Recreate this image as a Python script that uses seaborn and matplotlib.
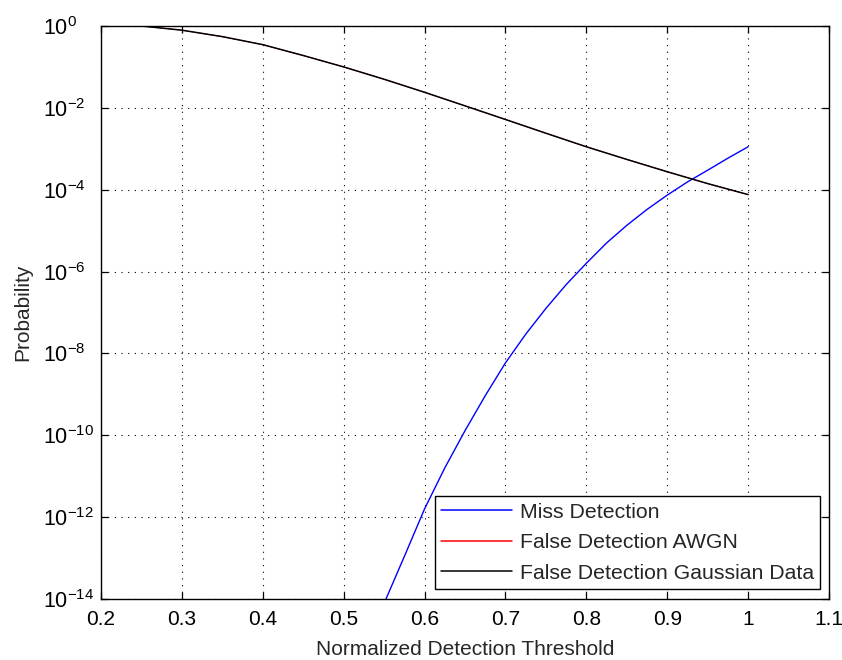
import matplotlib
matplotlib.use("Agg")
import matplotlib.pyplot as plt
from matplotlib.ticker import FixedLocator, NullLocator, LogFormatterMathtext
import seaborn as sns
import pandas as pd

# Detection threshold sweep and the resulting error probabilities
thr_miss = [0.55, 0.575, 0.6, 0.625, 0.65, 0.675, 0.7, 0.725, 0.75, 0.775,
            0.8, 0.825, 0.85, 0.875, 0.9, 0.925, 0.95, 0.975, 1.0]
p_miss = [7.9e-15, 1.1e-13, 1.6e-12, 1.6e-11, 1.3e-10, 9.3e-10, 5.9e-9,
          2.95e-8, 1.26e-7, 4.8e-7, 1.6e-6, 5.0e-6, 1.35e-5, 3.3e-5,
          7.4e-5, 1.55e-4, 3.0e-4, 5.9e-4, 1.12e-3]

thr_fa = [0.25, 0.3, 0.35, 0.4, 0.45, 0.5, 0.55, 0.6, 0.65, 0.7, 0.75,
          0.8, 0.85, 0.9, 0.95, 1.0]
p_fa_gauss = [1.0, 0.79, 0.55, 0.35, 0.19, 0.10, 0.050, 0.024, 0.0112,
              5.2e-3, 2.4e-3, 1.12e-3, 5.5e-4, 2.75e-4, 1.41e-4, 7.6e-5]
# AWGN false-detection curve coincides with the Gaussian-data curve
p_fa_awgn = list(p_fa_gauss)

x_ticks = [0.2, 0.3, 0.4, 0.5, 0.6, 0.7, 0.8, 0.9, 1.0, 1.1]
x_tick_labels = ["0.2", "0.3", "0.4", "0.5", "0.6", "0.7", "0.8", "0.9", "1", "1.1"]
y_ticks = [1e-14, 1e-12, 1e-10, 1e-8, 1e-6, 1e-4, 1e-2, 1e0]

labels = ["Miss Detection", "False Detection AWGN", "False Detection Gaussian Data"]

sns.set_theme(style="white")
plt.rcParams["font.family"] = ["Liberation Sans", "DejaVu Sans"]
plt.rcParams["mathtext.fontset"] = "custom"
plt.rcParams["mathtext.rm"] = "Liberation Sans"
plt.rcParams["mathtext.it"] = "Liberation Sans"
plt.rcParams["mathtext.default"] = "regular"

fig = plt.figure(figsize=(8.42, 6.60), dpi=100)
ax = fig.add_axes([0.12, 0.0924, 0.8646, 0.8682])

df_miss = pd.DataFrame({"thr": thr_miss, "p": p_miss})
df_awgn = pd.DataFrame({"thr": thr_fa, "p": p_fa_awgn})
df_gauss = pd.DataFrame({"thr": thr_fa, "p": p_fa_gauss})

sns.lineplot(data=df_miss, x="thr", y="p", ax=ax, color="#0000ff", lw=1.0,
             label=labels[0], sort=True)
sns.lineplot(data=df_awgn, x="thr", y="p", ax=ax, color="#ff0000", lw=0.6,
             label=labels[1], sort=True)
sns.lineplot(data=df_gauss, x="thr", y="p", ax=ax, color="black", lw=1.1,
             label=labels[2], sort=True)

ax.set_yscale("log")
ax.set_xlim(0.2, 1.1)
ax.set_ylim(1e-14, 1e0)

ax.xaxis.set_major_locator(FixedLocator(x_ticks))
ax.set_xticklabels(x_tick_labels)
ax.yaxis.set_major_locator(FixedLocator(y_ticks))
ax.yaxis.set_major_formatter(LogFormatterMathtext())
ax.yaxis.set_minor_locator(NullLocator())
ax.xaxis.set_minor_locator(NullLocator())

ax.tick_params(axis="both", which="major", direction="in", length=5, width=0.9,
               colors="black", labelsize=15, top=True, right=True,
               bottom=True, left=True)
ax.tick_params(axis="x", pad=8)
# y labels share a common left edge, with the mantissa "10" lined up
ax.tick_params(axis="y", pad=41.5, labelsize=15.5)
plt.setp(ax.get_yticklabels(), ha="left")

for sp in ax.spines.values():
    sp.set_visible(True)
    sp.set_color("black")
    sp.set_linewidth(1.0)

ax.grid(True, which="major", color="black", linestyle=(0, (1, 5)), linewidth=0.8)
ax.set_axisbelow(True)

ax.set_xlabel("Normalized Detection Threshold", fontsize=15, labelpad=8)
ax.set_ylabel("Probability", fontsize=15)
ax.yaxis.set_label_coords(-0.094, 0.5)

leg = ax.legend(loc="lower right", bbox_to_anchor=(0.988, 0.0175),
                borderaxespad=0, fontsize=15.3, frameon=True, fancybox=False,
                handlelength=3.35, handletextpad=0.35, labelspacing=0.54,
                borderpad=0.3)
leg.get_frame().set_edgecolor("black")
leg.get_frame().set_linewidth(1.0)
leg.get_frame().set_facecolor("white")
leg.get_frame().set_alpha(1.0)
for h in leg.get_lines():
    h.set_linewidth(1.1)

fig.savefig("out.png", dpi=100, facecolor="white")
